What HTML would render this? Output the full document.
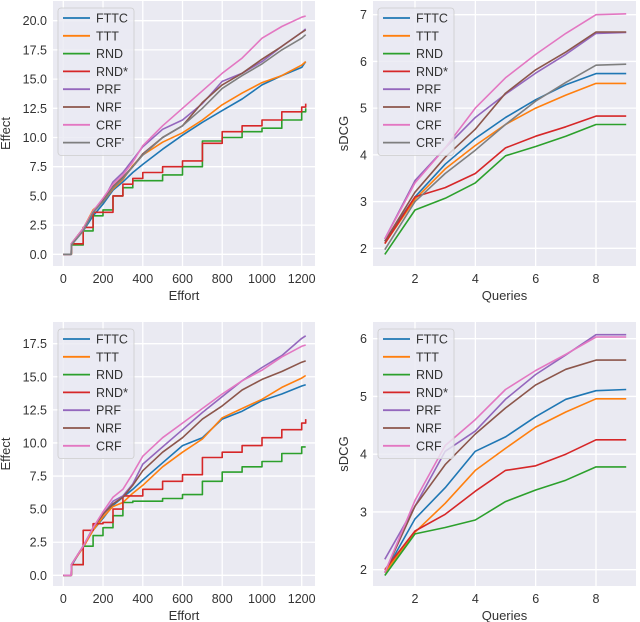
<!DOCTYPE html>
<html><head><meta charset="utf-8"><style>
body{margin:0;background:#fff;}
svg{display:block;font-family:"Liberation Sans","DejaVu Sans",sans-serif;}
</style></head><body>
<svg id="c" width="640" height="622" viewBox="0 0 640 622" xmlns="http://www.w3.org/2000/svg"></svg>
<script>
const colors={FTTC:'#1f77b4',TTT:'#ff7f0e',RND:'#2ca02c','RND*':'#d62728',PRF:'#9467bd',NRF:'#8c564b',CRF:'#e377c2',"CRF'":'#7f7f7f'};
const effortX=[0,40,41,100,150,200,250,300,350,400,500,600,700,800,900,1000,1100,1200,1220];
const queriesX=[1,2,3,4,5,6,7,8,9];
const effortTicks=[0,200,400,600,800,1000,1200];
const queryTicks=[2,4,6,8];
const effTicksTop=[0,2.5,5,7.5,10,12.5,15,17.5,20];
const effTicksBot=[0,2.5,5,7.5,10,12.5,15,17.5];
const sdcgTicksTop=[2,3,4,5,6,7];
const sdcgTicksBot=[2,3,4,5,6];
const tlNames=['FTTC','TTT','RND','RND*','PRF','NRF','CRF',"CRF'"];
const blNames=['FTTC','TTT','RND','RND*','PRF','NRF','CRF'];
const tlFTTC=[0,0,0.8,2,3.3,4.3,5.5,6.2,7,7.7,9,10.2,11.3,12.3,13.3,14.5,15.3,16,16.5];
const tlTTT=[0,0,0.9,2.2,3.8,4.5,5.6,6.4,7.6,8.5,9.6,10.4,11.5,12.8,13.8,14.7,15.3,16.2,16.5];
const tlRND=[0,0,0.8,2,3.3,3.8,5,5.7,6.3,6.3,6.8,7.5,9.7,10,10.5,10.8,11.5,12.2,12.5];
const tlRNDs=[0,0,0.9,2.3,3.6,3.6,5,6,6.5,7,7.5,8,9.5,10.5,11,11.5,12.2,12.6,12.9];
const tlPRF=[0,0,0.9,2.2,3.6,4.6,6.2,7,8.1,9.2,10.7,11.5,12.9,14.8,15.5,16.5,17.8,19,19.3];
const tlNRF=[0,0,0.9,2.2,3.6,4.6,5.8,6.6,7.5,8.6,10,11,13,14.5,15.5,16.7,17.8,19,19.2];
const tlCRF=[0,0,0.9,2.2,3.7,4.8,6,6.8,7.9,9.3,11,12.5,14,15.5,16.8,18.5,19.5,20.3,20.4];
const tlCRFp=[0,0,0.8,2,3.6,4.5,5.7,6.5,7.5,8.5,10,11,12.5,14.2,15.3,16.3,17.5,18.5,18.8];
const trFTTC=[2.15,3.1,3.8,4.35,4.8,5.18,5.5,5.74,5.74];
const trTTT=[2.1,3.05,3.7,4.2,4.65,5.0,5.28,5.53,5.53];
const trRND=[1.87,2.82,3.07,3.4,3.98,4.18,4.4,4.65,4.65];
const trRNDs=[2.1,3.1,3.3,3.6,4.15,4.4,4.6,4.83,4.83];
const trPRF=[2.2,3.45,4.15,4.8,5.3,5.75,6.15,6.6,6.62];
const trNRF=[2.15,3.2,3.95,4.55,5.32,5.82,6.2,6.63,6.63];
const trCRF=[2.2,3.4,4.15,5.0,5.65,6.15,6.6,7.0,7.02];
const trCRFp=[1.97,3.0,3.6,4.1,4.65,5.15,5.55,5.92,5.94];
const blFTTC=[0,0,0.7,2.2,3.4,4.3,5.3,5.9,6.5,7.2,8.5,9.8,10.4,11.8,12.4,13.2,13.7,14.3,14.4];
const blTTT=[0,0,0.8,2.1,3.4,4.4,5.2,5.5,6.2,6.8,8.2,9.3,10.3,11.9,12.6,13.3,14.2,14.9,15.1];
const blRND=[0,0,0.8,2.2,3,3.6,4.5,5.5,5.6,5.6,5.8,6.1,7.1,7.8,8.2,8.6,9.2,9.7,9.7];
const blRNDs=[0,0,0.8,3.4,3.9,4,5,6,6,6.5,7.1,7.6,8.9,9.3,9.8,10.4,11,11.5,11.8];
const blPRF=[0,0,0.8,2.2,3.6,4.6,5.6,6,6.9,8.4,9.7,11,12.3,13.5,14.7,15.7,16.6,17.9,18.1];
const blNRF=[0,0,0.8,2.2,3.6,4.6,5.4,5.9,6.8,7.9,9.3,10.4,11.8,12.8,14,14.8,15.4,16.1,16.2];
const blCRF=[0,0,0.8,2.2,3.6,4.8,5.9,6.5,7.7,9,10.4,11.5,12.6,13.7,14.7,15.5,16.5,17.3,17.4];
const brFTTC=[1.95,2.88,3.42,4.05,4.3,4.65,4.95,5.1,5.12];
const brTTT=[1.95,2.65,3.15,3.72,4.1,4.47,4.73,4.96,4.96];
const brRND=[1.9,2.62,2.73,2.86,3.18,3.38,3.55,3.78,3.78];
const brRNDs=[2.0,2.67,2.96,3.36,3.72,3.8,4.0,4.25,4.25];
const brPRF=[2.18,3.1,4.05,4.4,4.95,5.38,5.72,6.07,6.07];
const brNRF=[1.95,3.1,3.82,4.35,4.8,5.2,5.47,5.63,5.63];
const brCRF=[1.95,3.2,4.15,4.6,5.12,5.45,5.73,6.03,6.03];

const NS='http://www.w3.org/2000/svg';
const svg=document.getElementById('c');
function mk(tag,attrs,parent,text){const e=document.createElementNS(NS,tag);for(const k in attrs)e.setAttribute(k,attrs[k]);if(text!==undefined)e.textContent=text;(parent||svg).appendChild(e);return e;}
function lin(d0,d1,p0,p1){return v=>p0+(v-d0)*(p1-p0)/(d1-d0);}

function panel(o){
  const g=mk('g',{});
  
  
  const bg=mk('rect',{x:o.L,y:o.T,width:o.R-o.L,height:o.B-o.T,fill:'#eaeaf2'},g);
  
  
  o.xt.forEach(t=>{const x=o.sx(t);
    mk('line',{x1:x,x2:x,y1:o.T,y2:o.B,stroke:'#fff','stroke-width':1.3},g);
    const tl=mk('text',{x:x,y:o.B+17,'text-anchor':'middle','font-size':12.5,fill:'#333'},g,String(t));
    
    });
  o.yt.forEach(t=>{const y=o.sy(t);
    mk('line',{x1:o.L,x2:o.R,y1:y,y2:y,stroke:'#fff','stroke-width':1.3},g);
    const tl=mk('text',{x:o.L-6,y:y+4.5,'text-anchor':'end','font-size':12.5,fill:'#333'},g,o.yfmt(t));
    
    });
  const xl=mk('text',{x:(o.L+o.R)/2,y:o.B+34,'text-anchor':'middle','font-size':13,fill:'#333'},g,o.xlabel);
  
  
  const yx=o.ylx, yy=(o.T+o.B)/2;
  const yl=mk('text',{x:yx,y:yy,'text-anchor':'middle','font-size':13,fill:'#333',transform:`rotate(-90 ${yx} ${yy})`},g,o.ylabel);
  
  
  o.names.forEach((n,i)=>{
    const ys=o.series[i];let pts=[];
    for(let k=0;k<o.xs.length;k++){
      const px=o.sx(o.xs[k]),py=o.sy(ys[k]);
      if(o.step(n)&&k>0)pts.push(px.toFixed(1)+','+o.sy(ys[k-1]).toFixed(1));
      pts.push(px.toFixed(1)+','+py.toFixed(1));
    }
    const pl=mk('polyline',{points:pts.join(' '),fill:'none',stroke:colors[n],'stroke-width':1.6,'stroke-linejoin':'round'},g);
    
    
  });
  const lh=o.names.length*17.8+5;
  const lg=mk('g',{},g);
  
  
  mk('rect',{x:o.L+5,y:o.T+7,width:76,height:lh,rx:3,fill:'#eaeaf2','fill-opacity':0.8,stroke:'#ccc','stroke-width':0.8},lg);
  o.names.forEach((n,i)=>{
    const y=o.T+17+i*17.8;
    const e=mk('g',{},lg);
    
    
    mk('line',{x1:o.L+10,x2:o.L+37,y1:y,y2:y,stroke:colors[n],'stroke-width':1.8},e);
    mk('text',{x:o.L+43,y:y+4.5,'font-size':12.5,fill:'#333'},e,n);
  });
}
const stepF=n=>n==='RND'||n==='RND*';
const noStep=n=>false;
const f1=t=>t.toFixed(1), f0=t=>String(t);
panel({name:'top-left-effort-panel',L:53,R:315,T:1,B:266,sx:lin(0,1200,63.3,301.7),sy:lin(0,20,254.3,20.7),xt:effortTicks,yt:effTicksTop,yfmt:f1,xlabel:'Effort',ylabel:'Effect',ylx:10,names:tlNames,xs:effortX,series:[tlFTTC,tlTTT,tlRND,tlRNDs,tlPRF,tlNRF,tlCRF,tlCRFp],step:stepF});
panel({name:'top-right-queries-panel',L:373,R:636,T:1,B:266,sx:lin(2,8,415,596),sy:lin(2,7,248.3,14.7),xt:queryTicks,yt:sdcgTicksTop,yfmt:f0,xlabel:'Queries',ylabel:'sDCG',ylx:348,names:tlNames,xs:queriesX,series:[trFTTC,trTTT,trRND,trRNDs,trPRF,trNRF,trCRF,trCRFp],step:noStep});
panel({name:'bottom-left-effort-panel',L:53,R:315,T:322,B:586,sx:lin(0,1200,63.3,301.7),sy:lin(0,17.5,575.3,343.7),xt:effortTicks,yt:effTicksBot,yfmt:f1,xlabel:'Effort',ylabel:'Effect',ylx:10,names:blNames,xs:effortX,series:[blFTTC,blTTT,blRND,blRNDs,blPRF,blNRF,blCRF],step:stepF});
panel({name:'bottom-right-queries-panel',L:373,R:636,T:322,B:586,sx:lin(2,8,415,596),sy:lin(2,6,569.7,338.7),xt:queryTicks,yt:sdcgTicksBot,yfmt:f0,xlabel:'Queries',ylabel:'sDCG',ylx:348,names:blNames,xs:queriesX,series:[brFTTC,brTTT,brRND,brRNDs,brPRF,brNRF,brCRF],step:noStep});
</script>
</body></html>
